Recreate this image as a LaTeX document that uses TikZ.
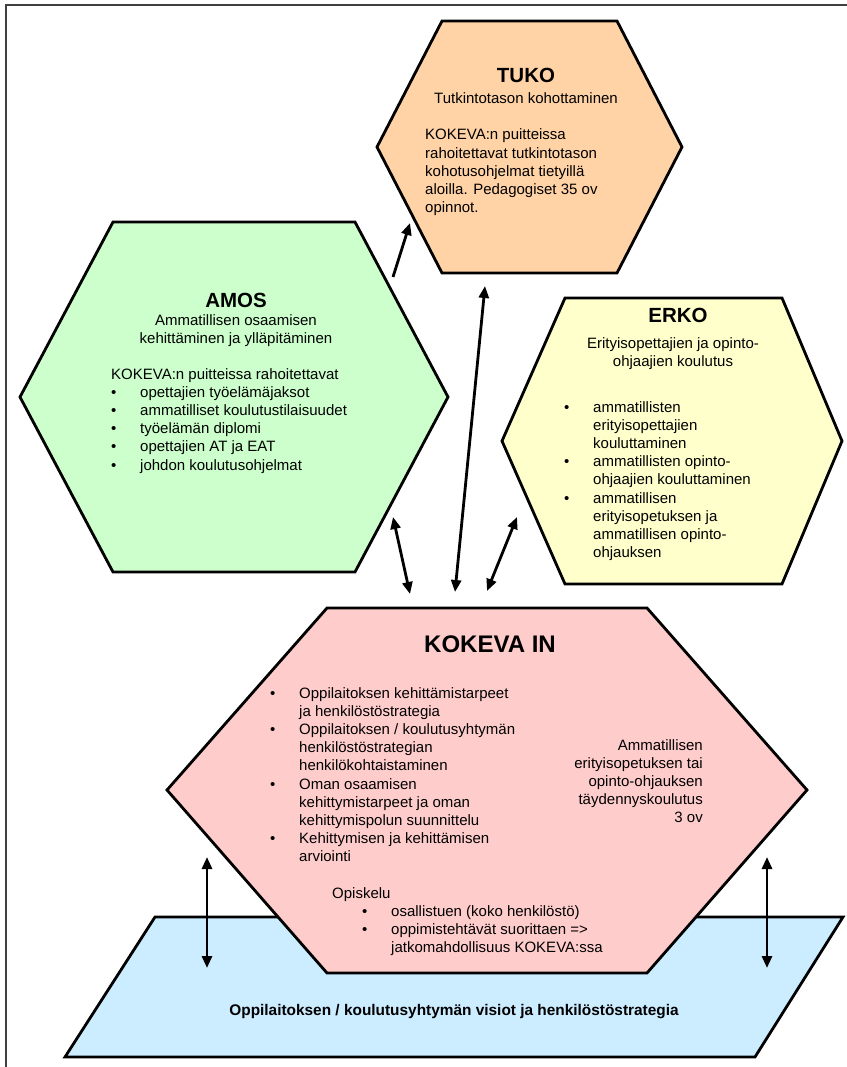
\documentclass[tikz,border=0pt]{standalone}
\usepackage{fontspec}
\setmainfont{Liberation Sans}
\usetikzlibrary{arrows.meta}

\definecolor{tukoc}{RGB}{255,211,166}
\definecolor{amosc}{RGB}{204,255,204}
\definecolor{erkoc}{RGB}{255,255,204}
\definecolor{kokevac}{RGB}{255,204,204}
\definecolor{visionc}{RGB}{204,236,255}

\newcommand{\bodyfont}{\fontsize{15}{18.2}\selectfont}
\newcommand{\bul}{\par\hangindent=29pt\hangafter=1\noindent\makebox[29pt][l]{\textbullet}}
\newcommand{\nl}{\newline}
\newcommand{\lbox}[2]{\parbox[t]{#1}{\raggedright\bodyfont #2}}
\newcommand{\cbox}[2]{\parbox[t]{#1}{\centering\bodyfont #2}}
\newcommand{\rbox}[2]{\parbox[t]{#1}{\raggedleft\bodyfont #2}}

\begin{document}
\begin{tikzpicture}[x=1pt,y=-1pt,
    every node/.style={inner sep=0pt},
    hexa/.style={draw,line width=2.8pt,line join=miter},
    arr/.style={-{Triangle[length=12pt,width=10pt]},line width=2.8pt},
    darr/.style={{Triangle[length=12pt,width=10pt]}-{Triangle[length=12pt,width=10pt]},line width=2.8pt},
    title/.style={anchor=base,font=\bfseries\fontsize{20.5}{24}\selectfont}]

  \useasboundingbox (0,0) rectangle (846,1067);
  \draw[line width=1.3pt,black!75] (6,5) rectangle (880,1100);

  % shapes
  \draw[hexa,fill=visionc] (65,1057) -- (155,917) -- (843,917) -- (755,1057) -- cycle;
  \draw[hexa,fill=kokevac] (167,790) -- (327,608) -- (647,608) -- (807,790) -- (647,973) -- (327,973) -- cycle;
  \draw[hexa,fill=tukoc] (377,147) -- (442,21) -- (617,21) -- (682,147) -- (617,273) -- (442,273) -- cycle;
  \draw[hexa,fill=amosc] (20,397) -- (113,222) -- (355,222) -- (448,397) -- (355,572) -- (113,572) -- cycle;
  \draw[hexa,fill=erkoc] (502,441) -- (565,298) -- (782,298) -- (842,441) -- (782,584) -- (565,584) -- cycle;

  % TUKO
  \node[title] (tuko) at (526,83) {TUKO};
  \node[anchor=base] (tuko-sub) at (526,104) {\cbox{250pt}{Tutkintotason kohottaminen}};
  \node[anchor=base west] (tuko-txt) at (425,140) {\lbox{250pt}{KOKEVA:n puitteissa\nl
    rahoitettavat tutkintotason\nl kohotusohjelmat tietyillä\nl aloilla. Pedagogiset 35 ov\nl opinnot.}};

  % AMOS
  \node[title] (amos) at (236,307) {AMOS};
  \node[anchor=base] (amos-sub) at (236,325) {\cbox{300pt}{Ammatillisen osaamisen\\ kehittäminen ja ylläpitäminen}};
  \node[anchor=base west] (amos-txt) at (111,379) {\lbox{320pt}{KOKEVA:n puitteissa rahoitettavat
    \bul opettajien työelämäjaksot
    \bul ammatilliset koulutustilaisuudet
    \bul työelämän diplomi
    \bul opettajien AT ja EAT
    \bul johdon koulutusohjelmat}};

  % ERKO
  \node[title] (erko) at (678,322) {ERKO};
  \node[anchor=base] (erko-sub) at (673,348) {\cbox{250pt}{Erityisopettajien ja opinto-\\ ohjaajien koulutus}};
  \node[anchor=base west] (erko-txt) at (564,412) {\lbox{260pt}{\noindent
    \makebox[29pt][l]{\textbullet}\hangindent=29pt\hangafter=1 ammatillisten\nl erityisopettajien\nl kouluttaminen
    \bul ammatillisten opinto-\nl ohjaajien kouluttaminen
    \bul ammatillisen\nl erityisopetuksen ja\nl ammatillisen opinto-\nl ohjauksen}};

  % KOKEVA IN
  \node[anchor=base,font=\bfseries\fontsize{24}{28}\selectfont] (kokeva) at (490,652) {KOKEVA IN};
  \node[anchor=base west] (kokeva-txt) at (270,698) {\lbox{330pt}{\noindent
    \makebox[29pt][l]{\textbullet}\hangindent=29pt\hangafter=1 Oppilaitoksen kehittämistarpeet\nl ja henkilöstöstrategia
    \bul Oppilaitoksen / koulutusyhtymän\nl henkilöstöstrategian\nl henkilökohtaistaminen
    \bul Oman osaamisen\nl kehittymistarpeet ja oman\nl kehittymispolun suunnittelu
    \bul Kehittymisen ja kehittämisen\nl arviointi}};
  \node[anchor=base west] (opiskelu) at (332,898) {\lbox{330pt}{Opiskelu\par\leftskip=30pt
    \bul osallistuen (koko henkilöstö)
    \bul oppimistehtävät suorittaen =>\nl jatkomahdollisuus KOKEVA:ssa}};
  \node[anchor=base east] (kokeva-right) at (703,750) {\rbox{200pt}{Ammatillisen\\ erityisopetuksen tai\\
    opinto-ohjauksen\\ täydennyskoulutus\\ 3 ov}};

  % base text
  \node[anchor=base,font=\bfseries\fontsize{15.4}{18}\selectfont] (vision) at (454,1015)
    {Oppilaitoksen / koulutusyhtymän visiot ja henkilöstöstrategia};

  % arrow ends
  \coordinate (amos-up) at (393,277);
  \coordinate (tuko-left) at (410,223);
  \coordinate (kok-mid) at (455,592);
  \coordinate (tuko-low) at (485,286);
  \coordinate (amos-low) at (393,517);
  \coordinate (kok-left) at (410,594);
  \coordinate (erko-low) at (517,517);
  \coordinate (kok-right) at (487,591);
  \coordinate (base-l1) at (207,857);
  \coordinate (base-l2) at (207,968);
  \coordinate (base-r1) at (767,857);
  \coordinate (base-r2) at (767,968);

  \draw[arr] (amos-up) -- (tuko-left);
  \draw[darr] (kok-mid) -- (tuko-low);
  \draw[darr] (amos-low) -- (kok-left);
  \draw[darr] (erko-low) -- (kok-right);
  \draw[darr] (base-l1) -- (base-l2);
  \draw[darr] (base-r1) -- (base-r2);
\end{tikzpicture}
\end{document}
